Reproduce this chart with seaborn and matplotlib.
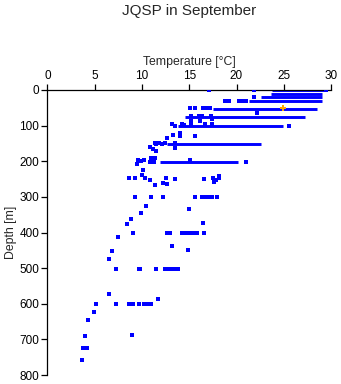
import matplotlib
matplotlib.use("Agg")
import matplotlib.pyplot as plt
import seaborn as sns
import pandas as pd

# ---- data: isolated measurements (temperature degC, depth m) ----
pt_temp = [17.1, 21.8, 29.5,
           21.9,
           18.8, 19.2, 20.3, 20.7, 21.0,
           15.1, 15.6, 16.5, 16.9, 17.2,
           22.2,
           15.2, 16.0, 16.4, 17.3, 17.4,
           15.2, 16.1,
           13.2, 14.2, 14.4, 15.2, 16.7, 17.4,
           13.5, 25.6,
           14.0, 13.3, 14.0, 15.6, 12.6,
           11.4, 11.8, 13.5, 11.5, 12.1, 12.4,
           10.8, 13.5, 11.2, 11.5,
           10.9, 11.4,
           9.6, 9.9, 10.2, 10.85, 11.3, 15.1, 21.0,
           9.5, 10.1, 10.0,
           8.66, 9.3, 10.35, 12.5, 13.5, 16.6, 17.5, 17.8, 18.1, 18.1,
           10.8, 17.6, 12.2, 12.6, 11.4,
           9.3, 10.9, 12.2, 15.6, 16.3, 16.6, 16.9, 17.2, 17.4, 17.9,
           10.45, 15.0, 9.9, 8.87, 16.5, 8.45,
           9.1, 12.6, 13.0, 14.2, 14.7, 15.1, 15.5, 15.8, 16.6,
           7.5, 13.2, 14.9, 6.86, 6.54,
           7.3, 9.7, 9.8, 11.45, 12.4, 12.8, 13.2, 13.6, 13.85,
           6.54, 11.7,
           5.1, 7.3, 8.6, 9.1, 9.7, 10.2, 10.5, 10.7, 11.0,
           4.96, 4.3, 8.9, 4.0, 3.8, 4.0, 4.2, 3.7]
pt_depth = [0, 0, 0,
            21,
            31, 31, 31, 31, 31,
            51, 51, 51, 51, 51,
            65,
            73, 73, 73, 73, 80,
            86, 86,
            96, 96, 97, 97, 96, 96,
            102, 102,
            122, 125, 130, 130, 136,
            148, 148, 148, 152, 152, 150,
            161, 163, 167, 170,
            190, 190,
            197, 199, 197, 203, 203, 197, 201,
            208, 225, 238,
            247, 247, 247, 247, 250, 250, 247, 252, 247, 241,
            253, 258, 260, 263, 268,
            301, 301, 301, 301, 301, 301, 301, 301, 301, 301,
            327, 333, 344, 361, 372, 375,
            402, 402, 402, 402, 402, 402, 402, 402, 402,
            414, 437, 448, 451, 474,
            502, 502, 502, 502, 502, 502, 502, 502, 502,
            574, 588,
            602, 602, 602, 602, 602, 602, 602, 602, 602,
            622, 645, 687, 690, 723, 723, 723, 757]

# ---- data: densely sampled horizontal runs (depth, temp start, temp end) ----
seg_depth = [0, 11, 21, 31, 52, 76, 102, 152, 201]
seg_tmin = [23.76, 23.7, 22.6, 21.3, 17.5, 14.55, 13.8, 12.65, 11.9]
seg_tmax = [29.26, 29.1, 29.1, 29.05, 28.55, 27.25, 24.95, 22.6, 20.2]

# ---- data: highlighted measurement ----
hl_temp = [24.9]
hl_depth = [51]

title = "JQSP in September"
xlabel = "Temperature [\u00b0C]"
ylabel = "Depth [m]"
xticks = [0, 5, 10, 15, 20, 25, 30]
yticks = [0, 100, 200, 300, 400, 500, 600, 700, 800]

sns.set_style("white")
plt.rcParams["font.family"] = ["Liberation Sans", "DejaVu Sans"]

W, H = 341, 384
fig = plt.figure(figsize=(W / 100, H / 100), dpi=100)
ax = fig.add_axes([47.5 / W, 1 - 375 / H, (331 - 47.5) / W, (375 - 90) / H])

blue = "#0000ff"
ax.hlines(seg_depth, seg_tmin, seg_tmax, colors=blue, linewidth=2.1, zorder=2)
df = pd.DataFrame({"t": pt_temp, "d": pt_depth})
sns.scatterplot(data=df, x="t", y="d", ax=ax, marker="s", s=5.0,
                color=blue, linewidth=0, zorder=3)
dh = pd.DataFrame({"t": hl_temp, "d": hl_depth})
sns.scatterplot(data=dh, x="t", y="d", ax=ax, marker="P", s=14,
                color="#ffa500", linewidth=0, zorder=4)

ax.set_xlim(0, 30)
ax.set_ylim(800, 0)
ax.set_xticks(xticks)
ax.set_yticks(yticks)
ax.xaxis.tick_top()
ax.xaxis.set_label_position("top")
for s in ["right", "bottom"]:
    ax.spines[s].set_visible(False)
for s in ["top", "left"]:
    ax.spines[s].set_color("black")
    ax.spines[s].set_linewidth(0.9)
ax.tick_params(axis="both", direction="out", length=4, width=0.9,
               colors="black", labelsize=8.5, pad=2)
ax.tick_params(axis="x", top=True, bottom=False)
ax.tick_params(axis="y", left=True)
ax.set_xlabel(xlabel, fontsize=8.8, labelpad=3)
ax.set_ylabel(ylabel, fontsize=8.8, labelpad=2)
fig.text(189 / W, 1 - 11 / H, title, ha="center", va="center", fontsize=11)

fig.savefig("out.png", dpi=100)
